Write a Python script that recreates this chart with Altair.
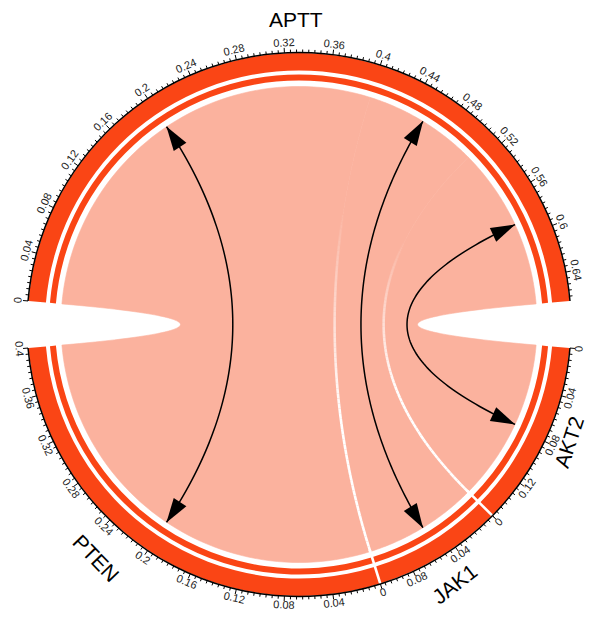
import numpy as np
import pandas as pd
import altair as alt

# ---------------- data ----------------
sectors = ["APTT", "AKT2", "JAK1", "PTEN"]
sector_values = [0.664, 0.155, 0.109, 0.4]
link_source = ["APTT", "APTT", "APTT"]
link_target = ["PTEN", "JAK1", "AKT2"]
link_values = [0.4, 0.109, 0.155]
major_step = 0.04
minor_per_major = 8
group_label_pos_deg = [-0.6, 113.5, 149.0, 221.0]
group_label_rot_deg = [0.0, -72.0, -38.0, 46.0]
group_label_radius = [303.5, 296.0, 304.0, 311.0]

# ---------------- layout ----------------
CX, CY = 299.0, 324.5
R_AXIS = 272.0
R_TRACK_OUT, R_TRACK_IN = 271.5, 254.0
R_RING_OUT, R_RING_IN = 250.0, 244.0
R_LINK = 238.0
R_TICKLAB = 281.5
BIG_GAP = 9.93
gaps_after = [BIG_GAP, 0.0, 0.0, BIG_GAP]
TRACK_COLOR = "#FA4515"
LINK_COLOR = "#FBB29E"
FONT = "Liberation Sans"

total = sum(sector_values)
deg_per_unit = (360.0 - sum(gaps_after)) / total
start = {}
a = 270.0 + BIG_GAP / 2
for name, v, g in zip(sectors, sector_values, gaps_after):
    start[name] = a
    a += v * deg_per_unit + g
size_of = dict(zip(sectors, sector_values))


def ang(sector, v):
    return start[sector] + v * deg_per_unit


def pt(phi, r):
    p = np.radians(phi)
    return CX + r * np.sin(p), CY - r * np.cos(p)


def arc_pts(p0, p1, r, n=60):
    return [pt(f, r) for f in np.linspace(p0, p1, n)]


def bez(P0, P2, n=80):
    t = np.linspace(0, 1, n)[:, None]
    P0 = np.array(P0)
    P2 = np.array(P2)
    C = np.array([CX, CY])
    return (1 - t) ** 2 * P0 + 2 * t * (1 - t) * C + t ** 2 * P2


xs = alt.Scale(domain=[8, 590], nice=False, zero=False)
ys = alt.Scale(domain=[610, 8], nice=False, zero=False)
X = lambda f: alt.X(f, scale=xs, axis=None)
Y = lambda f: alt.Y(f, scale=ys, axis=None)

# ---------------- ribbons ----------------
rib_rows, edge_rows, arrow_rows, head_rows = [], [], [], []
cum = {s: 0.0 for s in sectors}
for k, (src, tgt, val) in enumerate(zip(link_source, link_target, link_values)):
    a0, a1 = ang(src, cum[src]), ang(src, cum[src] + val)
    b0, b1 = ang(tgt, cum[tgt]), ang(tgt, cum[tgt] + val)
    poly = []
    poly += arc_pts(a0, a1, R_LINK)
    poly += [tuple(p) for p in bez(pt(a1, R_LINK), pt(b0, R_LINK))]
    poly += arc_pts(b0, b1, R_LINK)
    poly += [tuple(p) for p in bez(pt(b1, R_LINK), pt(a0, R_LINK))]
    for i, (x, y) in enumerate(poly):
        rib_rows.append(dict(rid=k, i=i, x=x, y=y))
    # boundary line (target end -> source start), fading toward the source
    if cum[src] > 0:
        e = bez(pt(b1, R_LINK), pt(a0, R_LINK), 90)
        n = len(e)
        for i in range(n - 1):
            u = 1 - (i + 0.5) / (n - 1)
            op = float(np.clip((u - 0.25) / 0.45, 0, 1))
            edge_rows.append(dict(x=e[i][0], y=e[i][1], x2=e[i + 1][0], y2=e[i + 1][1], op=op))
    # arrow between ribbon mid-points
    am = ang(src, cum[src] + val / 2)
    bm = ang(tgt, cum[tgt] + val / 2)
    line = bez(pt(am, R_LINK), pt(bm, R_LINK), 100)
    for i, (x, y) in enumerate(line):
        arrow_rows.append(dict(aid=k, i=i, x=x, y=y))
    for phi in (am, bm):
        hx, hy = pt(phi, R_LINK - 12)
        head_rows.append(dict(x=hx, y=hy, rot=phi % 360))
    cum[src] += val
    cum[tgt] += val

rib_df = pd.DataFrame(rib_rows)
edge_df = pd.DataFrame(edge_rows)
arrow_df = pd.DataFrame(arrow_rows)
head_df = pd.DataFrame(head_rows)

ribbons = alt.Chart(rib_df).mark_line(fill=LINK_COLOR, stroke=LINK_COLOR, strokeWidth=0.6).encode(
    x=X("x:Q"), y=Y("y:Q"), order="i:Q", detail="rid:N")

edges = alt.Chart(edge_df).mark_rule(color="white", strokeWidth=2.6, strokeCap="butt").encode(
    x=X("x:Q"), y=Y("y:Q"), x2="x2:Q", y2="y2:Q", opacity=alt.Opacity("op:Q", scale=None))

arrows = alt.Chart(arrow_df).mark_line(color="black", strokeWidth=1.5).encode(
    x=X("x:Q"), y=Y("y:Q"), order="i:Q", detail="aid:N")

heads = alt.Chart(head_df).mark_point(
    shape="M0,-1L0.62,1L-0.62,1Z", filled=True, color="black", opacity=1, size=600, strokeWidth=0
).encode(x=X("x:Q"), y=Y("y:Q"), angle=alt.Angle("rot:Q", scale=None))

# ---------------- tracks ----------------
arc_rows = []
for s in sectors:
    t0 = np.radians(ang(s, 0))
    t1 = np.radians(ang(s, size_of[s]))
    arc_rows.append(dict(cx=CX, cy=CY, t0=t0, t1=t1, ro=R_TRACK_OUT, ri=R_TRACK_IN, col=TRACK_COLOR))
    arc_rows.append(dict(cx=CX, cy=CY, t0=t0, t1=t1, ro=R_RING_OUT, ri=R_RING_IN, col=TRACK_COLOR))
    arc_rows.append(dict(cx=CX, cy=CY, t0=t0, t1=t1, ro=R_AXIS + 0.75, ri=R_AXIS - 0.75, col="black"))
arc_df = pd.DataFrame(arc_rows)


def arcs_chart(df):
    return alt.Chart(df).mark_arc(strokeWidth=0).encode(
        x=X("cx:Q"), y=Y("cy:Q"),
        theta=alt.Theta("t0:Q", scale=None, stack=None), theta2="t1:Q",
        radius=alt.Radius("ro:Q", scale=None), radius2="ri:Q",
        color=alt.Color("col:N", scale=None))


tracks = arcs_chart(arc_df[arc_df.col != "black"])
axis_arcs = arcs_chart(arc_df[arc_df.col == "black"])

# white separators between touching sectors
sep_rows = []
for s, g in zip(sectors, gaps_after):
    if g == 0:
        phi = ang(s, size_of[s])
        x1, y1 = pt(phi, R_LINK - 2)
        x2, y2 = pt(phi, R_TRACK_OUT)
        sep_rows.append(dict(x=x1, y=y1, x2=x2, y2=y2))
seps = alt.Chart(pd.DataFrame(sep_rows)).mark_rule(color="white", strokeWidth=2.6).encode(
    x=X("x:Q"), y=Y("y:Q"), x2="x2:Q", y2="y2:Q")

# ---------------- ticks & labels ----------------
minor_step = major_step / minor_per_major
tick_rows, lab_rows = [], []
for s in sectors:
    n = int(np.floor(size_of[s] / minor_step + 1e-6))
    for k in range(n + 1):
        v = k * minor_step
        phi = ang(s, v)
        major = k % minor_per_major == 0
        x1, y1 = pt(phi, R_AXIS)
        x2, y2 = pt(phi, R_AXIS + (5 if major else 3))
        tick_rows.append(dict(x=x1, y=y1, x2=x2, y2=y2))
        if major:
            pn = ((phi + 180) % 360) - 180
            rot = pn if -90 <= pn <= 90 else pn - 180
            lx, ly = pt(phi, R_TICKLAB)
            lab_rows.append(dict(x=lx, y=ly, rot=rot % 360, txt=f"{round(v, 4):g}"))
ticks = alt.Chart(pd.DataFrame(tick_rows)).mark_rule(color="black", strokeWidth=1).encode(
    x=X("x:Q"), y=Y("y:Q"), x2="x2:Q", y2="y2:Q")
tick_labels = alt.Chart(pd.DataFrame(lab_rows)).mark_text(
    font=FONT, fontSize=11, color="#222222", align="center", baseline="middle"
).encode(x=X("x:Q"), y=Y("y:Q"), angle=alt.Angle("rot:Q", scale=None), text="txt:N")

g_rows = []
for s, pdeg, rdeg, rr in zip(sectors, group_label_pos_deg, group_label_rot_deg, group_label_radius):
    gx, gy = pt(pdeg, rr)
    g_rows.append(dict(x=gx, y=gy, rot=rdeg % 360, txt=s))
group_labels = alt.Chart(pd.DataFrame(g_rows)).mark_text(
    font=FONT, fontSize=21, color="black", align="center", baseline="middle"
).encode(x=X("x:Q"), y=Y("y:Q"), angle=alt.Angle("rot:Q", scale=None), text="txt:N")

chart = alt.layer(
    ribbons, edges, arrows, heads, tracks, seps, axis_arcs, ticks, tick_labels, group_labels
).properties(
    width=582, height=602, padding=0, autosize=alt.AutoSizeParams(type="none")
).configure_view(stroke=None)

chart.save("out.html", embed_options={"renderer": "svg", "actions": False})
